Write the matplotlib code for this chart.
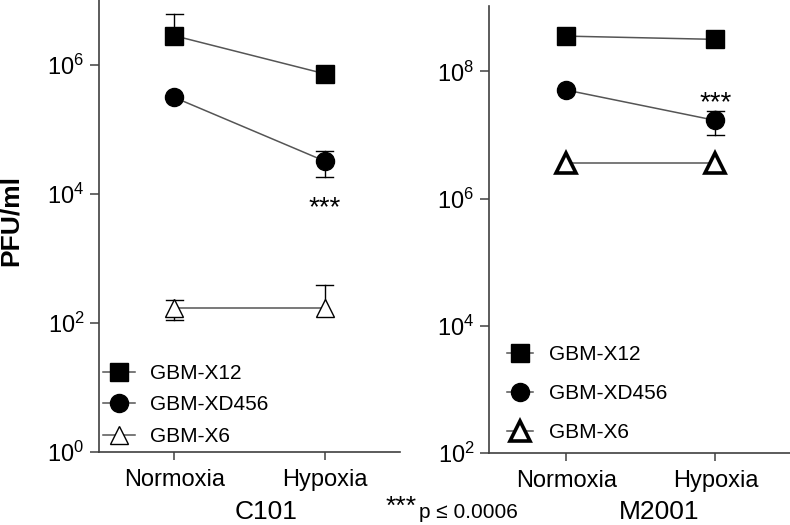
import numpy as np
import matplotlib
matplotlib.use('Agg')
import matplotlib.pyplot as plt
from matplotlib.ticker import NullLocator

plt.rcParams['font.family'] = ['Liberation Sans', 'DejaVu Sans']
plt.rcParams['mathtext.fontset'] = 'custom'
plt.rcParams['mathtext.rm'] = 'Liberation Sans'
plt.rcParams['mathtext.it'] = 'Liberation Sans:italic'
plt.rcParams['mathtext.bf'] = 'Liberation Sans:bold'

# data
conditions = ['Normoxia', 'Hypoxia']
lines = ['GBM-X12', 'GBM-XD456', 'GBM-X6']

# C101 panel (PFU/ml), error bar ends (nan = not visible)
c101_x12 = [2.8e6, 7.2e5]
c101_x12_lo = [np.nan, np.nan]
c101_x12_hi = [6.0e6, np.nan]
c101_xd456 = [3.1e5, 3.2e4]
c101_xd456_lo = [np.nan, 1.8e4]
c101_xd456_hi = [np.nan, 4.6e4]
c101_x6 = [172, 172]
c101_x6_lo = [111, np.nan]
c101_x6_hi = [228, 390]

# M2001 panel
m2001_x12 = [3.6e8, 3.2e8]
m2001_x12_lo = [np.nan, np.nan]
m2001_x12_hi = [np.nan, np.nan]
m2001_xd456 = [5.1e7, 1.7e7]
m2001_xd456_lo = [np.nan, 1.02e7]
m2001_xd456_hi = [np.nan, 2.4e7]
m2001_x6 = [3.7e6, 3.7e6]
m2001_x6_lo = [np.nan, np.nan]
m2001_x6_hi = [np.nan, np.nan]

c101_ticks = [1, 1e2, 1e4, 1e6]
c101_ticklabels = ['$10^{0}$', '$10^{2}$', '$10^{4}$', '$10^{6}$']
m2001_ticks = [1e2, 1e4, 1e6, 1e8]
m2001_ticklabels = ['$10^{2}$', '$10^{4}$', '$10^{6}$', '$10^{8}$']

W, H = 790, 525
fig = plt.figure(figsize=(W / 100, H / 100), dpi=100)
ax1 = fig.add_axes([99 / W, 1 - 452 / H, 301 / W, 452 / H])
ax2 = fig.add_axes([489 / W, 1 - 453 / H, 301 / W, 447 / H])

linecol = '#555555'
spinecol = '#404040'
xs = np.arange(len(conditions))


def draw(ax, series, tri_mew, tri_ms):
    handles = []
    styles = [('s', 13, 1, 'black'), ('o', 13, 1, 'black'), ('^', tri_ms, tri_mew, 'white')]
    for (y, lo, hi), lab, (mk, ms, mew, fc) in zip(series, lines, styles):
        y = np.array(y, dtype=float)
        yerr = np.vstack([y - np.array(lo, dtype=float), np.array(hi, dtype=float) - y])
        yerr = np.nan_to_num(yerr, nan=0.0)
        for i in range(len(xs)):
            for k, sgn in ((0, -1), (1, 1)):
                if yerr[k, i] > 0:
                    end = y[i] + sgn * yerr[k, i]
                    ax.plot([xs[i], xs[i]], [y[i], end], color='black', lw=1, zorder=2)
                    ax.plot([xs[i] - 0.055, xs[i] + 0.055], [end, end], color='black', lw=1, zorder=2)
        h, = ax.plot(xs, y, color=linecol, lw=1.1, marker=mk, markersize=ms,
                     markerfacecolor=fc, markeredgecolor='black', markeredgewidth=mew,
                     label=lab, zorder=3)
        handles.append(h)
    ax.set_yscale('log')
    ax.yaxis.set_minor_locator(NullLocator())
    ax.set_xticks(xs)
    ax.set_xticklabels(conditions, fontsize=17)
    for s in ['top', 'right']:
        ax.spines[s].set_visible(False)
    for s in ['left', 'bottom']:
        ax.spines[s].set_color(spinecol)
        ax.spines[s].set_linewidth(1.2)
    ax.tick_params(axis='y', length=6.5, width=1.1, color=spinecol, pad=4, labelsize=17)
    ax.tick_params(axis='x', length=6, width=1.1, color=spinecol, pad=6)
    return handles


h1 = draw(ax1, [(c101_x12, c101_x12_lo, c101_x12_hi),
                (c101_xd456, c101_xd456_lo, c101_xd456_hi),
                (c101_x6, c101_x6_lo, c101_x6_hi)], 1.0, 13.5)
ax1.set_ylim(1, 1e7)
ax1.set_xlim(-0.5, 1.5)
ax1.set_yticks(c101_ticks)
ax1.set_yticklabels(c101_ticklabels)
ax1.yaxis.set_minor_locator(NullLocator())
ax1.text(1, 6e3, '***', ha='center', va='center', fontsize=20)

h2 = draw(ax2, [(m2001_x12, m2001_x12_lo, m2001_x12_hi),
                (m2001_xd456, m2001_xd456_lo, m2001_xd456_hi),
                (m2001_x6, m2001_x6_lo, m2001_x6_hi)], 2.6, 14)
ax2.set_ylim(1e2, 10 ** 9.03)
ax2.set_xlim(-0.52, 1.5)
ax2.set_yticks(m2001_ticks)
ax2.set_yticklabels(m2001_ticklabels)
ax2.yaxis.set_minor_locator(NullLocator())
ax2.text(1, 3.2e7, '***', ha='center', va='center', fontsize=20)

fig.legend(handles=h1, loc='upper left', bbox_to_anchor=(103 / W, 1 - 364 / H),
           frameon=False, fontsize=15, handlelength=1.55, handletextpad=0.7,
           labelspacing=0.6, borderpad=0, borderaxespad=0)
fig.legend(handles=h2, loc='upper left', bbox_to_anchor=(507 / W, 1 - 345 / H),
           frameon=False, fontsize=15, handlelength=1.25, handletextpad=0.75,
           labelspacing=0.97, borderpad=0, borderaxespad=0)

fig.text(11 / W, 1 - 220 / H, 'PFU/ml', rotation=90, ha='center', va='center',
         fontsize=19, fontweight='bold')
fig.text(266 / W, 1 - 512 / H, 'C101', ha='center', va='center', fontsize=19)
fig.text(659 / W, 1 - 512 / H, 'M2001', ha='center', va='center', fontsize=19)
fig.text(386 / W, 1 - 495 / H, '***', ha='left', va='top', fontsize=19)
fig.text(419 / W, 1 - 512 / H, 'p \u2264 0.0006', ha='left', va='center', fontsize=15)

fig.savefig('out.png', dpi=100)
